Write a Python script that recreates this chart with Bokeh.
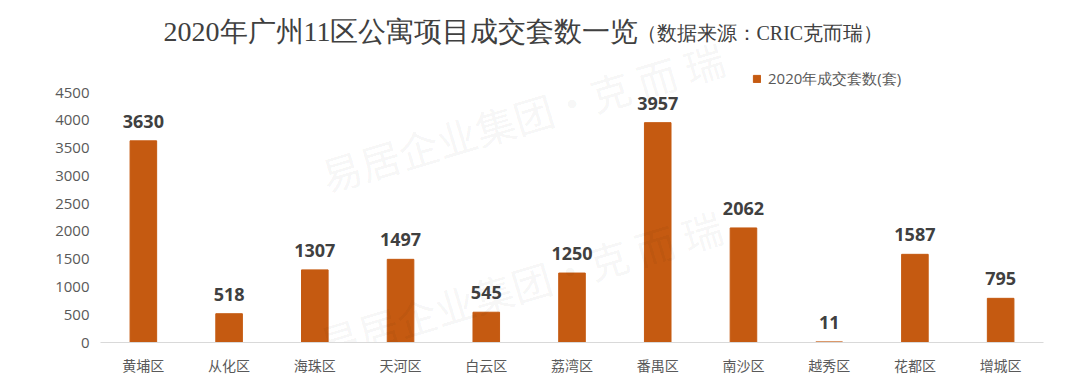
from bokeh.plotting import figure
from bokeh.models import ColumnDataSource, Label, Legend, LegendItem, Range1d, FactorRange, FixedTicker
from bokeh.embed import file_html
from bokeh.resources import INLINE
from bokeh.core.properties import value

districts = ["黄埔区", "从化区", "海珠区", "天河区", "白云区", "荔湾区", "番禺区", "南沙区", "越秀区", "花都区", "增城区"]
deals = [3630, 518, 1307, 1497, 545, 1250, 3957, 2062, 11, 1587, 795]
y_ticks = [0, 500, 1000, 1500, 2000, 2500, 3000, 3500, 4000, 4500]
series_name = "2020年成交套数(套)"
title_main = "2020年广州11区公寓项目成交套数一览"
title_sub = "（数据来源：CRIC克而瑞）"
watermark = "易居企业集团·克 而 瑞"

W, H = 1080, 378
FL, FR, FB = 100, 1043, 342          # frame left/right/bottom in px
PX_PER_UNIT = 250 / 4500              # 4500 sits 250px above the baseline
n = len(districts)
cat_w = (FR - FL) / n

def dx(px):
    return (px - FL) / cat_w

def dy(py):
    return (FB - py) / PX_PER_UNIT

src = ColumnDataSource(dict(d=districts, v=deals, t=[str(x) for x in deals]))

p = figure(x_range=FactorRange(*districts, range_padding=0), y_range=Range1d(0, dy(0)),
           width=W, height=H, output_backend="svg", toolbar_location=None,
           min_border_left=FL, min_border_right=W - FR, min_border_top=0, min_border_bottom=H - FB)
p.outline_line_color = None
p.background_fill_color = "white"
p.grid.visible = False

# watermark
for (wx, wy) in [(322, 176), (320, 344)]:
    p.add_layout(Label(x=dx(wx), y=dy(wy), text=watermark, angle=0.29,
                       text_font="Noto Sans CJK SC", text_font_size="40px",
                       text_color="#000000", text_alpha=0.055, text_baseline="alphabetic"))

r = p.vbar(x="d", top="v", width=0.31, source=src, color="#C55A11")
p.text(x="d", y="v", text="t", source=src, text_align="center", text_baseline="bottom",
       y_offset=-13, text_font=value("Open Sans"), text_font_size="18px",
       text_font_style="bold", text_color="#404040")

p.yaxis.ticker = FixedTicker(ticks=y_ticks)
p.yaxis.axis_line_color = None
p.yaxis.major_tick_line_color = None
p.yaxis.minor_tick_line_color = None
p.yaxis.major_label_text_font = "Open Sans"
p.yaxis.major_label_text_font_size = "15px"
p.yaxis.major_label_text_color = "#595959"
p.yaxis.major_label_standoff = 5

p.xaxis.axis_line_color = "#d9d9d9"
p.xaxis.axis_line_width = 1
p.xaxis.major_tick_line_color = None
p.xaxis.minor_tick_line_color = None
p.xaxis.major_label_text_font = "Noto Sans CJK SC"
p.xaxis.major_label_text_font_size = "14px"
p.xaxis.major_label_text_color = "#595959"
p.xaxis.major_label_standoff = 6

legend = Legend(items=[LegendItem(label=series_name, renderers=[r])], location=(652, 253),
                label_text_font="Open Sans", label_text_font_size="15px",
                label_text_color="#595959", glyph_width=9, glyph_height=9,
                border_line_color=None, background_fill_alpha=0, padding=0, margin=0,
                label_standoff=7)
p.add_layout(legend, "center")

p.add_layout(Label(x=dx(163), y=dy(31), text=title_main,
                   text_font="Liberation Serif", text_font_size="28px", text_color="#404040",
                   text_baseline="middle"))
p.add_layout(Label(x=dx(636), y=dy(32), text=title_sub,
                   text_font="Liberation Serif", text_font_size="20px", text_color="#404040",
                   text_baseline="middle"))

open("out.html", "w").write(file_html(p, INLINE))
